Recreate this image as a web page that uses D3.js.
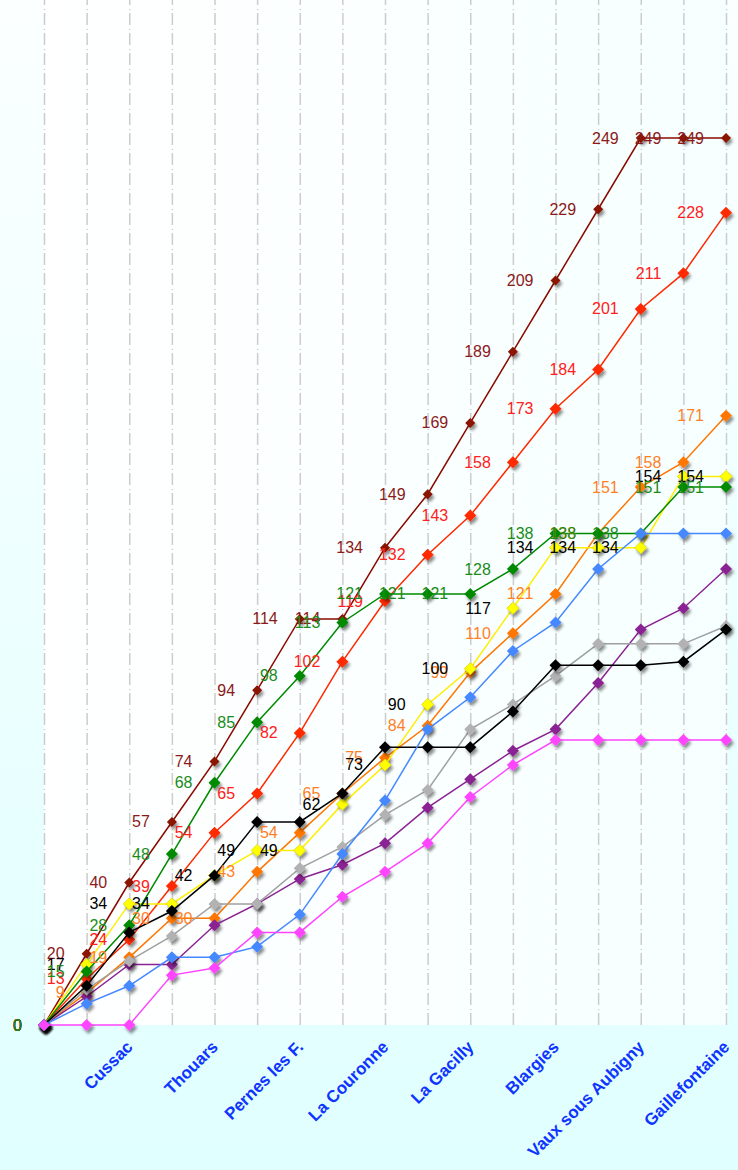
<!DOCTYPE html>
<html>
<head>
  <meta charset="UTF-8">
  <style>
    body {
        margin: 0;
        font-family: Arial, sans-serif;
    }
    .val {
        font-family: "Liberation Sans Narrow", "Arial Narrow", Arial, sans-serif;
        font-size: 16px;
    }
    .stage {
        font-family: Arial, "Liberation Sans", sans-serif;
        font-size: 17px;
        font-weight: bold;
        fill: #1034ff;
    }
    .grid line {
        stroke: #cccccc;
        stroke-width: 1.5px;
        stroke-dasharray: 12, 3, 1, 4;
    }
  </style>
</head>
<body>

<svg id="chart"></svg>

<script src="https://d3js.org/d3.v7.min.js"></script>
<script>

// stages (start + 16 stages), only every second one carries a name
let stageLabels = ["", "", "Cussac", "", "Thouars", "", "Pernes les F.", "", "La Couronne",
                   "", "La Gacilly", "", "Blargies", "", "Vaux sous Aubigny", "", "Gaillefontaine"];

// cumulated points per rider
let darkred = [0, 20, 40, 57, 74, 94, 114, 114, 134, 149, 169, 189, 209, 229, 249, 249, 249];
let red     = [0, 13, 24, 39, 54, 65, 82, 102, 119, 132, 143, 158, 173, 184, 201, 211, 228];
let orange  = [0, 9, 19, 30, 30, 43, 54, 65, 75, 84, 99, 110, 121, 138, 151, 158, 171];
let yellow  = [0, 17, 34, 34, 42, 49, 49, 62, 73, 90, 100, 117, 134, 134, 134, 154, 154];
let green   = [0, 15, 28, 48, 68, 85, 98, 113, 121, 121, 121, 128, 138, 138, 138, 151, 151];
let purple  = [0, 8, 17, 17, 28, 34, 41, 45, 51, 61, 69, 77, 83, 96, 111, 117, 128];
let gray    = [0, 10, 18, 25, 34, 34, 44, 50, 59, 66, 83, 90, 98, 107, 107, 107, 112];
let black   = [0, 11, 26, 32, 42, 57, 57, 65, 78, 78, 78, 88, 101, 101, 101, 102, 111];
let blue    = [0, 6, 11, 19, 19, 22, 31, 48, 63, 83, 92, 105, 113, 128, 138, 138, 138];
let magenta = [0, 0, 0, 14, 16, 26, 26, 36, 43, 51, 64, 73, 80, 80, 80, 80, 80];

// drawing order = stacking order of the markers
let series = [
  {values: darkred, line: "#8b0a00", fill: "#8b1200", label: "#8b1a1a", r: 5},
  {values: red,     line: "#ff2a00", fill: "#ff2a00", label: "#ff2020", r: 6},
  {values: orange,  line: "#ff7700", fill: "#ff7700", label: "#ff7f27", r: 6},
  {values: yellow,  line: "#ffee00", fill: "#ffff00", label: "#000000", r: 6, stroke: "#d8d800"},
  {values: green,   line: "#008a00", fill: "#008a00", label: "#1a8c1a", r: 6},
  {values: purple,  line: "#8b2393", fill: "#8b2393", r: 6},
  {values: gray,    line: "#a0a0a0", fill: "#b2b2b2", r: 6},
  {values: black,   line: "#000000", fill: "#000000", r: 6},
  {values: blue,    line: "#4488ff", fill: "#4488ff", r: 6},
  {values: magenta, line: "#ff44ff", fill: "#ff44ff", r: 6}
];

let W = 738, H = 1170;
let plotBottom = 1025;

let svg = d3.select("#chart")
  .attr("width", W)
  .attr("height", H);

let defs = svg.append("defs");

let bg = defs.append("linearGradient")
  .attr("id", "bg").attr("x1", 0).attr("y1", 0).attr("x2", 0).attr("y2", 1);
bg.append("stop").attr("offset", "0%").attr("stop-color", "#fbffff");
bg.append("stop").attr("offset", "100%").attr("stop-color", "#e0ffff");

let plotBg = defs.append("linearGradient")
  .attr("id", "plotbg").attr("x1", 0).attr("y1", 0).attr("x2", 1).attr("y2", 0);
plotBg.append("stop").attr("offset", "0%").attr("stop-color", "#ffffff");
plotBg.append("stop").attr("offset", "100%").attr("stop-color", "#f6ffff");

let shadow = defs.append("filter")
  .attr("id", "shadow")
  .attr("x", "-100%").attr("y", "-100%")
  .attr("width", "300%").attr("height", "300%");
shadow.append("feDropShadow")
  .attr("dx", 2).attr("dy", 3)
  .attr("stdDeviation", 1.6)
  .attr("flood-color", "#000")
  .attr("flood-opacity", 0.45);

// scales
let x = d3.scalePoint()
  .domain(d3.range(stageLabels.length))
  .range([44, 726]);

let y = d3.scaleLinear()
  .domain([0, 249])
  .range([plotBottom, 138]);

// backgrounds
svg.append("rect")
  .attr("width", W).attr("height", H)
  .attr("fill", "url(#bg)");
svg.append("rect")
  .attr("x", 44).attr("y", 0)
  .attr("width", 728 - 44).attr("height", plotBottom)
  .attr("fill", "url(#plotbg)");

// vertical dashed grid
svg.append("g")
  .attr("class", "grid")
  .attr("transform", "translate(0," + plotBottom + ")")
  .call(d3.axisBottom(x).tickSize(-plotBottom).tickFormat(""))
  .call(g => g.select(".domain").remove());

// stage names
let xAxis = svg.append("g")
  .attr("transform", "translate(0," + plotBottom + ")")
  .call(d3.axisBottom(x).tickSize(0).tickFormat(i => stageLabels[i]));
xAxis.select(".domain").remove();
xAxis.selectAll("text")
  .attr("class", "stage")
  .attr("font-size", null)
  .attr("font-family", null)
  .attr("fill", null)
  .attr("text-anchor", "end")
  .attr("dy", null)
  .attr("y", 0)
  .attr("transform", "translate(4,23) rotate(-45)");

let line = d3.line()
  .x((d, i) => x(i))
  .y(d => y(d));

let diamond = r => "M0," + (-r) + "L" + r + ",0L0," + r + "L" + (-r) + ",0Z";

// lines and markers
series.forEach(s => {
  let g = svg.append("g");
  g.append("path")
    .datum(s.values)
    .attr("fill", "none")
    .attr("stroke", s.line)
    .attr("stroke-width", 1.5)
    .attr("d", line);
  g.selectAll("path.mark")
    .data(s.values)
    .join("path")
    .attr("class", "mark")
    .attr("d", diamond(s.r))
    .attr("transform", (d, i) => "translate(" + x(i) + "," + y(d) + ")")
    .attr("fill", s.fill)
    .attr("stroke", s.stroke || "none")
    .attr("stroke-width", 0.8)
    .attr("filter", "url(#shadow)");
});

// value labels on top
series.filter(s => s.label).forEach(s => {
  svg.append("g")
    .selectAll("text")
    .data(s.values)
    .join("text")
    .attr("class", "val")
    .attr("x", (d, i) => x(i) - 22)
    .attr("y", d => y(d) + 5.5)
    .attr("text-anchor", "end")
    .attr("fill", s.label)
    .text(d => d);
});

</script>

</body>
</html>
